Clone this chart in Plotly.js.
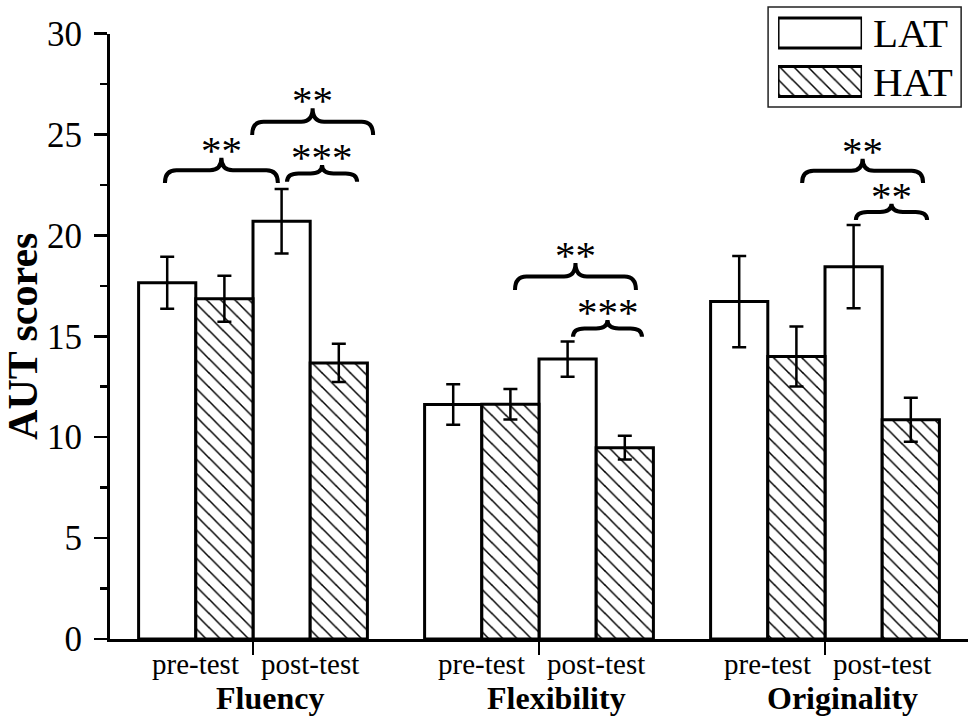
<!DOCTYPE html>
<html>
<head>
<meta charset="utf-8">
<script src="https://cdn.plot.ly/plotly-3.0.1.min.js"></script>
<style>
  html, body { margin: 0; padding: 0; background: #fff; }
  #chart { width: 975px; height: 721px; }
</style>
</head>
<body>
<div id="chart"></div>
<script>
// data
const categories = ['Fluency', 'Flexibility', 'Originality'];
const phases = ['pre-test', 'post-test'];
const latPre = [17.65, 11.62, 16.72];
const latPost = [20.7, 13.87, 18.45];
const hatPre = [16.86, 11.63, 14.0];
const hatPost = [13.68, 9.48, 10.86];
const latPreErr = [1.29, 1.0, 2.26];
const latPostErr = [1.6, 0.87, 2.06];
const hatPreErr = [1.14, 0.76, 1.49];
const hatPostErr = [0.95, 0.59, 1.09];

// significance braces: x span (axis units), base level, height, stars
const braceFrom = [-0.308, -0.003, 0.119, 0.916, 1.119, 1.920, 2.108];
const braceTo = [0.087, 0.42, 0.364, 1.339, 1.360, 2.343, 2.357];
const braceBase = [22.6, 24.97, 22.65, 17.29, 14.97, 22.6, 20.76];
const braceHeight = [1.24, 1.33, 0.84, 1.34, 0.84, 1.19, 0.8];
const braceStars = ['**', '**', '***', '**', '***', '**', '**'];

const serif = 'Liberation Serif, Times New Roman, serif';
const barW = 0.2;
const idx = categories.map((_, i) => i);

// bar positions inside each group: LAT pre, HAT pre, LAT post, HAT post
const latX = [], latY = [], latE = [];
const hatX = [], hatY = [], hatE = [];
idx.forEach(g => {
    latX.push(g - 1.5 * barW, g + 0.5 * barW);
    latY.push(latPre[g], latPost[g]);
    latE.push(latPreErr[g], latPostErr[g]);
    hatX.push(g - 0.5 * barW, g + 1.5 * barW);
    hatY.push(hatPre[g], hatPost[g]);
    hatE.push(hatPreErr[g], hatPostErr[g]);
});

const hatPattern = { shape: '\\', fgcolor: '#000', bgcolor: '#fff', size: 10, solidity: 0.15 };
const errStyle = { type: 'data', visible: true, color: '#000', thickness: 2.5, width: 7 };

const traces = [
    {
        type: 'bar', name: 'LAT', x: latX, y: latY, width: barW,
        marker: { color: '#fff', line: { color: '#000', width: 3 } },
        error_y: { ...errStyle, array: latE },
        hoverinfo: 'skip', showlegend: false
    },
    {
        type: 'bar', name: 'HAT', x: hatX, y: hatY, width: barW,
        marker: { color: '#fff', pattern: hatPattern, line: { color: '#000', width: 3 } },
        error_y: { ...errStyle, array: hatE },
        hoverinfo: 'skip', showlegend: false
    },
    // legend swatches on a small helper axis
    {
        type: 'bar', orientation: 'h', x: [1], y: [1], width: 0.62, xaxis: 'x2', yaxis: 'y2',
        marker: { color: '#fff', line: { color: '#000', width: 3 } },
        hoverinfo: 'skip', showlegend: false
    },
    {
        type: 'bar', orientation: 'h', x: [1], y: [0], width: 0.62, xaxis: 'x2', yaxis: 'y2',
        marker: { color: '#fff', pattern: hatPattern, line: { color: '#000', width: 3 } },
        hoverinfo: 'skip', showlegend: false
    }
];

// curly brace path in data coordinates
function bracePath(x0, x1, y0, h) {
    const xm = (x0 + x1) / 2, ym = y0 + h / 2, r = 0.04;
    return `M${x0},${y0} Q${x0},${ym} ${x0 + r},${ym} L${xm - r},${ym} ` +
        `Q${xm},${ym} ${xm},${y0 + h} Q${xm},${ym} ${xm + r},${ym} ` +
        `L${x1 - r},${ym} Q${x1},${ym} ${x1},${y0}`;
}

const shapes = braceFrom.map((x0, i) => ({
    type: 'path', xref: 'x', yref: 'y',
    path: bracePath(x0, braceTo[i], braceBase[i], braceHeight[i]),
    line: { color: '#000', width: 4 }
}));
shapes.push({
    type: 'rect', xref: 'paper', yref: 'paper',
    x0: 0.767, x1: 0.992, y0: 0.839, y1: 0.997,
    line: { color: '#222', width: 1.5 }, fillcolor: 'rgba(0,0,0,0)'
});

const annotations = [];
braceFrom.forEach((x0, i) => {
    annotations.push({
        x: (x0 + braceTo[i]) / 2, y: braceBase[i] + braceHeight[i],
        xref: 'x', yref: 'y', text: braceStars[i], showarrow: false,
        yanchor: 'bottom', yshift: -17,
        font: { family: serif, size: 41, color: '#000' }
    });
});
idx.forEach(g => {
    phases.forEach((p, k) => {
        annotations.push({
            x: g + (k === 0 ? -barW : barW), y: 0,
            xref: 'x', yref: 'paper', text: p, showarrow: false,
            yanchor: 'middle', yshift: -25,
            font: { family: serif, size: 29, color: '#000' }
        });
    });
    annotations.push({
        x: g + 0.06, y: 0, xref: 'x', yref: 'paper', text: '<b>' + categories[g] + '</b>',
        showarrow: false, yanchor: 'middle', yshift: -59,
        font: { family: serif, size: 32, color: '#000' }
    });
});
['HAT', 'LAT'].forEach((name, k) => {
    annotations.push({
        x: 0.887, y: k, xref: 'paper', yref: 'y2', text: name, showarrow: false,
        xanchor: 'left', yanchor: 'middle',
        font: { family: serif, size: 41, color: '#000' }
    });
});

const layout = {
    width: 975,
    height: 721,
    margin: { l: 110, r: 7, t: 5, b: 82 },
    paper_bgcolor: '#fff',
    plot_bgcolor: '#fff',
    barmode: 'overlay',
    showlegend: false,
    font: { family: serif, color: '#000' },
    xaxis: {
        range: [-0.5, 2.5],
        tickvals: idx,
        ticktext: idx.map(() => ''),
        ticks: 'outside', ticklen: 13, tickwidth: 2.5, tickcolor: '#000',
        showline: true, linewidth: 3, linecolor: '#000',
        showgrid: false, zeroline: false, fixedrange: true
    },
    yaxis: {
        domain: [0, 0.955],
        range: [0, 30],
        dtick: 5,
        ticks: 'outside', ticklen: 13, tickwidth: 2.5, tickcolor: '#000',
        minor: { dtick: 2.5, ticks: 'outside', ticklen: 7, tickwidth: 2.5, tickcolor: '#000' },
        ticklabelstandoff: 5,
        tickfont: { family: serif, size: 35, color: '#000' },
        showline: true, linewidth: 3, linecolor: '#000',
        showgrid: false, zeroline: false, fixedrange: true,
        title: { text: '<b>AUT scores</b>', font: { family: serif, size: 42, color: '#000' }, standoff: 6 }
    },
    xaxis2: {
        domain: [0.7786, 0.8765], range: [0, 1], anchor: 'y2',
        visible: false, fixedrange: true
    },
    yaxis2: {
        domain: [0.841, 0.994], range: [-0.5, 1.5], anchor: 'x2',
        visible: false, fixedrange: true
    },
    shapes: shapes,
    annotations: annotations
};

Plotly.newPlot('chart', traces, layout, { displayModeBar: false, staticPlot: true });
</script>
</body>
</html>
